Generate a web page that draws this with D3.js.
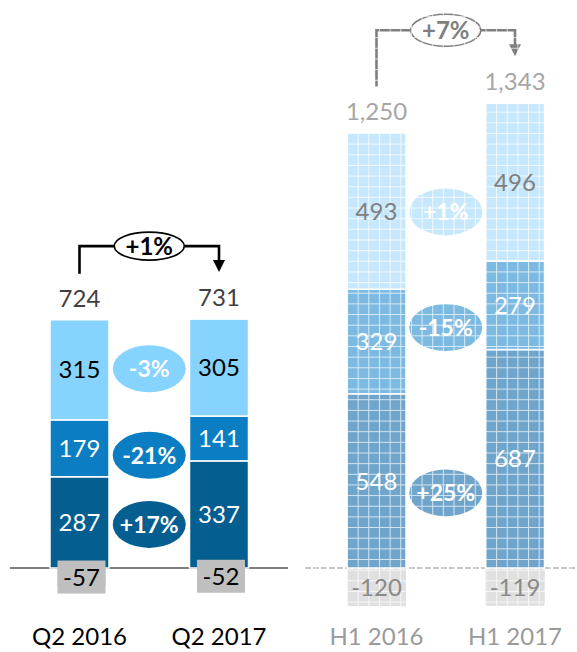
<!DOCTYPE html>
<html>
<head>
<meta charset="utf-8">
<script src="https://cdn.jsdelivr.net/npm/d3@7"></script>
<style>
  html, body { margin: 0; padding: 0; background: #fff; }
  svg { display: block; font-family: Lato, "Open Sans", sans-serif; }
</style>
</head>
<body>
<svg id="chart" width="577" height="652"></svg>
<script>
// Quarterly figures
const q2Periods = ["Q2 2016", "Q2 2017"];
const q2Base = [287, 337];
const q2Middle = [179, 141];
const q2Upper = [315, 305];
const q2Negative = [-57, -52];
const q2Totals = [724, 731];
const q2SegmentChanges = ["+17%", "-21%", "-3%"];
const q2TotalChange = "+1%";

// Half-year figures
const h1Periods = ["H1 2016", "H1 2017"];
const h1Base = [548, 687];
const h1Middle = [329, 279];
const h1Upper = [493, 496];
const h1Negative = [-120, -119];
const h1Totals = [1250, 1343];
const h1SegmentChanges = ["+25%", "-15%", "+1%"];
const h1TotalChange = "+7%";

const segmentKeys = ["base", "middle", "upper"];
const fmt = d3.formatLocale({ decimal: ".", thousands: ",", grouping: [3], currency: ["", ""], minus: "-" }).format(",");

const svg = d3.select("#chart");
const y = d3.scaleLinear().domain([0, 1400]).range([568, 123]);
const barWidth = 59;

function drawPanel(cfg) {
  const g = svg.append("g");
  const x = d3.scalePoint().domain(cfg.periods).range(cfg.xRange);
  const rows = cfg.periods.map((p, i) => ({
    period: p, base: cfg.base[i], middle: cfg.middle[i], upper: cfg.upper[i],
    negative: cfg.negative[i], total: cfg.totals[i]
  }));
  const series = d3.stack().keys(segmentKeys)(rows);

  // baseline
  g.append("line")
    .attr("x1", cfg.axisX[0]).attr("x2", cfg.axisX[1])
    .attr("y1", y(0)).attr("y2", y(0))
    .attr("stroke", cfg.axisColor).attr("stroke-width", 1.2)
    .attr("stroke-dasharray", cfg.axisDash || null);

  // stacked positive segments
  series.forEach((s, si) => {
    g.selectAll(null).data(s).join("rect")
      .attr("x", d => x(d.data.period) - barWidth / 2)
      .attr("width", barWidth)
      .attr("y", d => y(d[1]))
      .attr("height", d => y(d[0]) - y(d[1]))
      .attr("fill", cfg.colors[si])
      .attr("stroke", "#fff").attr("stroke-width", 1.5);
  });

  // negative portion with its label plate
  g.selectAll(null).data(rows).join("rect")
    .attr("x", d => x(d.period) - cfg.negWidth / 2 + cfg.negShift)
    .attr("width", cfg.negWidth)
    .attr("y", y(0) + 1)
    .attr("height", d => y(d.negative) - y(0) - 1)
    .attr("fill", cfg.negColor);
  g.selectAll(null).data(rows).join("rect")
    .attr("x", d => x(d.period) - cfg.negWidth / 2 + cfg.negShift)
    .attr("width", cfg.negWidth)
    .attr("y", d => y(d.negative / 2) - 16.5)
    .attr("height", 33)
    .attr("fill", cfg.negColor);

  // change bubbles between the bars
  const midX = (x(cfg.periods[0]) + x(cfg.periods[1])) / 2;
  const first = series.map(s => s[0]);
  const bubbles = segmentKeys.map((k, si) => ({
    label: cfg.changes[si],
    cy: y((first[si][0] + first[si][1]) / 2) + cfg.bubbleNudge[si],
    color: cfg.colors[si]
  }));
  g.selectAll(null).data(bubbles).join("ellipse")
    .attr("cx", midX).attr("cy", d => d.cy)
    .attr("rx", 36.5).attr("ry", 23.5)
    .attr("fill", d => d.color);

  // total change arrow
  const tops = rows.map(r => y(r.base + r.middle + r.upper));
  const x1 = x(cfg.periods[0]), x2 = x(cfg.periods[1]);
  const yH = Math.min(...tops) - 73;
  const erx = 35, ery = cfg.arrowRy;
  const arrow = g.append("g").attr("fill", "none")
    .attr("stroke", cfg.arrowColor).attr("stroke-width", 2.6);
  arrow.append("path")
    .attr("d", `M${x1},${tops[0] - 46}V${yH}H${midX - erx}`);
  arrow.append("path")
    .attr("d", `M${midX + erx},${yH}H${x2}V${tops[1] - 58}`);
  arrow.append("ellipse")
    .attr("cx", midX).attr("cy", yH).attr("rx", erx).attr("ry", ery)
    .attr("fill", "#fff").attr("stroke-width", 1.6);
  g.append("path")
    .attr("d", `M${x2 - 6},${tops[1] - 59}L${x2 + 6},${tops[1] - 59}L${x2},${tops[1] - 47}Z`)
    .attr("fill", cfg.arrowColor);

  // washed-out grid texture
  if (cfg.gridTexture) {
    g.append("rect")
      .attr("x", cfg.axisX[0]).attr("y", 0)
      .attr("width", cfg.axisX[1] - cfg.axisX[0]).attr("height", 620)
      .attr("fill", "url(#grid)");
  }

  // texts
  g.append("text")
    .attr("x", midX).attr("y", yH).attr("dy", "0.36em")
    .attr("text-anchor", "middle").attr("font-weight", 700).attr("font-size", 24)
    .attr("fill", cfg.arrowColor).text(cfg.totalChange);

  g.selectAll(null).data(bubbles).join("text")
    .attr("x", midX).attr("y", d => d.cy).attr("dy", "0.36em")
    .attr("text-anchor", "middle").attr("font-weight", 700).attr("font-size", 23)
    .attr("fill", "#fff").text(d => d.label);

  series.forEach((s, si) => {
    g.selectAll(null).data(s).join("text")
      .attr("x", d => x(d.data.period))
      .attr("y", d => y((d[0] + d[1]) / 2)).attr("dy", "0.36em")
      .attr("text-anchor", "middle").attr("font-size", 24)
      .attr("fill", cfg.labelColors[si])
      .text(d => fmt(d[1] - d[0]));
  });

  g.selectAll(null).data(rows).join("text")
    .attr("x", d => x(d.period) + cfg.negShift)
    .attr("y", d => y(d.negative / 2)).attr("dy", "0.36em")
    .attr("text-anchor", "middle").attr("font-size", 24)
    .attr("fill", cfg.negLabelColor)
    .text(d => fmt(d.negative));

  g.selectAll(null).data(rows).join("text")
    .attr("x", d => x(d.period))
    .attr("y", (d, i) => tops[i] - 13)
    .attr("text-anchor", "middle").attr("font-size", 24)
    .attr("fill", cfg.totalColor)
    .text(d => fmt(d.total));

  g.selectAll(null).data(rows).join("text")
    .attr("x", d => x(d.period)).attr("y", 645)
    .attr("text-anchor", "middle").attr("font-size", 24)
    .attr("fill", cfg.categoryColor)
    .text(d => d.period);
}

// grid texture pattern
const defs = svg.append("defs");
const pat = defs.append("pattern").attr("id", "grid")
  .attr("patternUnits", "userSpaceOnUse")
  .attr("x", 347).attr("y", 133).attr("width", 10.65).attr("height", 10.65);
pat.append("path").attr("d", "M0.5,0V10.65M0,0.5H10.65")
  .attr("stroke", "#fff").attr("stroke-opacity", 0.7).attr("stroke-width", 1);

drawPanel({
  periods: q2Periods, base: q2Base, middle: q2Middle, upper: q2Upper,
  negative: q2Negative, totals: q2Totals, changes: q2SegmentChanges, totalChange: q2TotalChange,
  xRange: [79.5, 219], axisX: [10, 288], axisColor: "#000",
  colors: ["#045E8F", "#0B7DC2", "#85D3FE"],
  labelColors: ["#fff", "#fff", "#000"],
  negColor: "#BFBFBF", negLabelColor: "#000", negWidth: 48, negShift: 2,
  totalColor: "#404040", categoryColor: "#000", arrowColor: "#000",
  arrowRy: 14, bubbleNudge: [2, 7, -1], gridTexture: false
});

drawPanel({
  periods: h1Periods, base: h1Base, middle: h1Middle, upper: h1Upper,
  negative: h1Negative, totals: h1Totals, changes: h1SegmentChanges, totalChange: h1TotalChange,
  xRange: [376.5, 515], axisX: [305, 577], axisColor: "#8c8c8c", axisDash: "6,2",
  colors: ["#6FA5CB", "#7CBAE2", "#C7E8FC"],
  labelColors: ["#fff", "#fff", "#808080"],
  negColor: "#E0E0E0", negLabelColor: "#8a8a8a", negWidth: barWidth, negShift: 0,
  totalColor: "#a6a6a6", categoryColor: "#9a9a9a", arrowColor: "#7f7f7f",
  arrowRy: 16, bubbleNudge: [12, -14, 1], gridTexture: true
});
</script>
</body>
</html>
